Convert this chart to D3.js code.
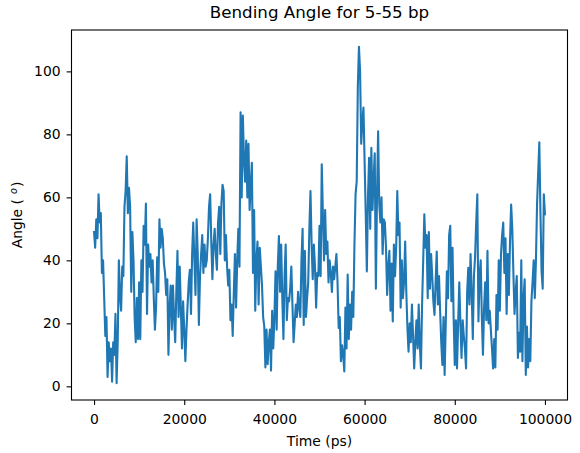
<!DOCTYPE html>
<meta charset="utf-8">
<title>Bending Angle</title>
<style>
  body { margin: 0; background: #fff; }
  text { font-family: "DejaVu Sans", sans-serif; fill: #000; }
  .axis line { stroke: #000; stroke-width: 1.1px; }
  .axis text { font-size: 13.9px; }
  .frame { fill: none; stroke: #000; stroke-width: 1.1px; }
  path.line {
    fill: none;
    stroke: #1f77b4;
    stroke-width: 2.1px;
    stroke-linejoin: round;
    stroke-linecap: square;
  }
</style>

<body>

<script src="https://cdn.jsdelivr.net/npm/d3@7"></script>

<script>

// one sample every 250 ps
var timeStep = 250;
var angle = [
  49, 44, 53, 47, 61, 52, 55, 36, 40, 28, 16, 22, 3, 14, 8, 12, 1.5, 14, 10, 23,
  1, 14, 40, 29, 24, 38, 35, 57, 62, 73, 55, 63, 57, 30, 49, 40, 22, 14, 28, 15,
  33, 15, 40, 30, 51, 45, 58, 23, 45, 38, 42, 33, 40, 28, 18, 25, 41, 30, 53, 44,
  50, 47, 39, 36, 29, 34, 10, 25, 32, 18, 32, 22, 14, 30, 43, 22, 38, 25, 12, 27,
  18, 8, 18, 26, 33, 37, 23, 42, 52, 40, 29, 53, 42, 19.5, 35, 42, 48, 36, 45, 38,
  40, 47, 57, 61, 46, 34, 45, 50, 42, 37, 52, 57, 42, 58, 64, 62, 40, 48, 38, 32,
  37, 21, 26, 16, 30, 42, 25, 40, 50, 38, 87, 60, 86, 72, 65, 78, 60, 77, 56, 64,
  71, 36, 56, 24, 40, 46, 26, 44, 38, 32, 22, 19, 6, 18, 7, 14, 18, 5, 24, 12,
  22, 36.5, 18, 38, 47.7, 30, 45, 28, 15, 35, 45, 21, 28, 27, 31, 38, 26, 14, 20, 26,
  22, 30, 25, 22, 40, 50, 19.5, 43, 22, 28, 33, 50, 62, 45, 34, 45, 38, 25, 36, 35,
  51, 35, 70.5, 54.6, 40, 56, 42, 46, 33, 40, 36, 30, 38, 34, 38, 42, 33, 18.5, 22, 8,
  13, 10, 4.7, 25, 12, 35.5, 15, 26, 18, 30, 22, 45, 61, 65, 95, 107.8, 100, 77, 84, 88.5,
  71.5, 55, 36.5, 60, 72.6, 50, 75.7, 56, 66, 74, 31, 60, 81, 58, 52, 60, 42, 53, 52, 44,
  29, 38, 43, 24, 39, 20.6, 45, 35, 44, 62, 48, 52, 25, 40, 28, 33, 46, 30, 18.5, 11,
  20, 14, 26, 16, 5.7, 14, 21, 12, 26, 13, 5.7, 26, 40, 54.6, 44, 48, 28, 49, 31, 42,
  35, 27, 22.7, 33, 42.8, 26, 35, 24, 14, 6.8, 22, 3.6, 20, 36.5, 28, 48, 51, 27, 44, 21.7,
  6.8, 21, 5.7, 20, 33, 20, 9, 21, 16, 12, 5.7, 30, 37.6, 26, 42, 30, 15, 35, 41, 52,
  61, 20.6, 35, 40, 22, 10, 25, 33, 21, 43, 20, 24, 18, 12, 5.7, 15, 6, 29, 18, 40,
  24, 42, 48, 52, 36, 47, 23, 42, 29, 46, 57.7, 50, 36, 23, 30, 35, 9, 17, 11, 40,
  8, 28, 34, 3.6, 19, 6, 15, 8, 27, 33, 40, 28, 40, 58, 68, 77.5, 55, 36.5, 31, 61,
  54.6
];

var xTicks = [0, 20000, 40000, 60000, 80000, 100000];
var yTicks = [0, 20, 40, 60, 80, 100];
var title = 'Bending Angle for 5-55 bp';
var xTitle = 'Time (ps)';

var data = angle.map(function(a, i) { return {t: i * timeStep, a: a}; });

var W = 580, H = 453;
var box = {left: 71.5, right: 567.5, top: 30, bottom: 400};

var svg = d3.select('body').append('svg')
  .attr('width', W).attr('height', H);

// matplotlib style 5% margins
var pad = function(ext) {
  var m = (ext[1] - ext[0]) * 0.05;
  return [ext[0] - m, ext[1] + m];
};

var x = d3.scaleLinear()
  .domain(pad(d3.extent(data, function(d) { return d.t; })))
  .range([box.left, box.right]);
var y = d3.scaleLinear()
  .domain(pad(d3.extent(data, function(d) { return d.a; })))
  .range([box.bottom, box.top]);

svg.append('path').datum(data)
  .attr('class', 'line')
  .attr('d', d3.line()
    .x(function(d) { return x(d.t); })
    .y(function(d) { return y(d.a); }));

var gx = svg.append('g').attr('class', 'axis')
  .attr('transform', 'translate(0,' + box.bottom + ')')
  .call(d3.axisBottom(x).tickValues(xTicks).tickFormat(d3.format('d'))
    .tickSize(4.9).tickSizeOuter(0).tickPadding(4.9));
gx.select('.domain').remove();
gx.selectAll('text').attr('y', 14.2).attr('dy', '0.71em')
  .attr('font-family', null).attr('font-size', null);

var gy = svg.append('g').attr('class', 'axis')
  .attr('transform', 'translate(' + box.left + ',0)')
  .call(d3.axisLeft(y).tickValues(yTicks).tickFormat(d3.format('d'))
    .tickSize(4.9).tickSizeOuter(0).tickPadding(6));
gy.select('.domain').remove();
gy.selectAll('text').attr('font-family', null).attr('font-size', null);

svg.append('rect').attr('class', 'frame')
  .attr('x', box.left).attr('y', box.top)
  .attr('width', box.right - box.left).attr('height', box.bottom - box.top);

svg.append('text')
  .attr('x', (box.left + box.right) / 2).attr('y', 17.8)
  .attr('text-anchor', 'middle').attr('font-size', 16.7)
  .text(title);

svg.append('text')
  .attr('x', (box.left + box.right) / 2).attr('y', 445.5)
  .attr('text-anchor', 'middle').attr('font-size', 13.9)
  .text(xTitle);

var yl = svg.append('text')
  .attr('transform', 'translate(22,' + (box.top + box.bottom) / 2 + ') rotate(-90)')
  .attr('text-anchor', 'middle').attr('font-size', 13.9);
yl.append('tspan').text('Angle (');
yl.append('tspan').attr('dx', 5).attr('dy', -5.5).attr('font-size', 9.7).attr('font-style', 'italic').text('o');
yl.append('tspan').attr('dy', 5.5).attr('dx', 1).text(')');

</script>

</body>
